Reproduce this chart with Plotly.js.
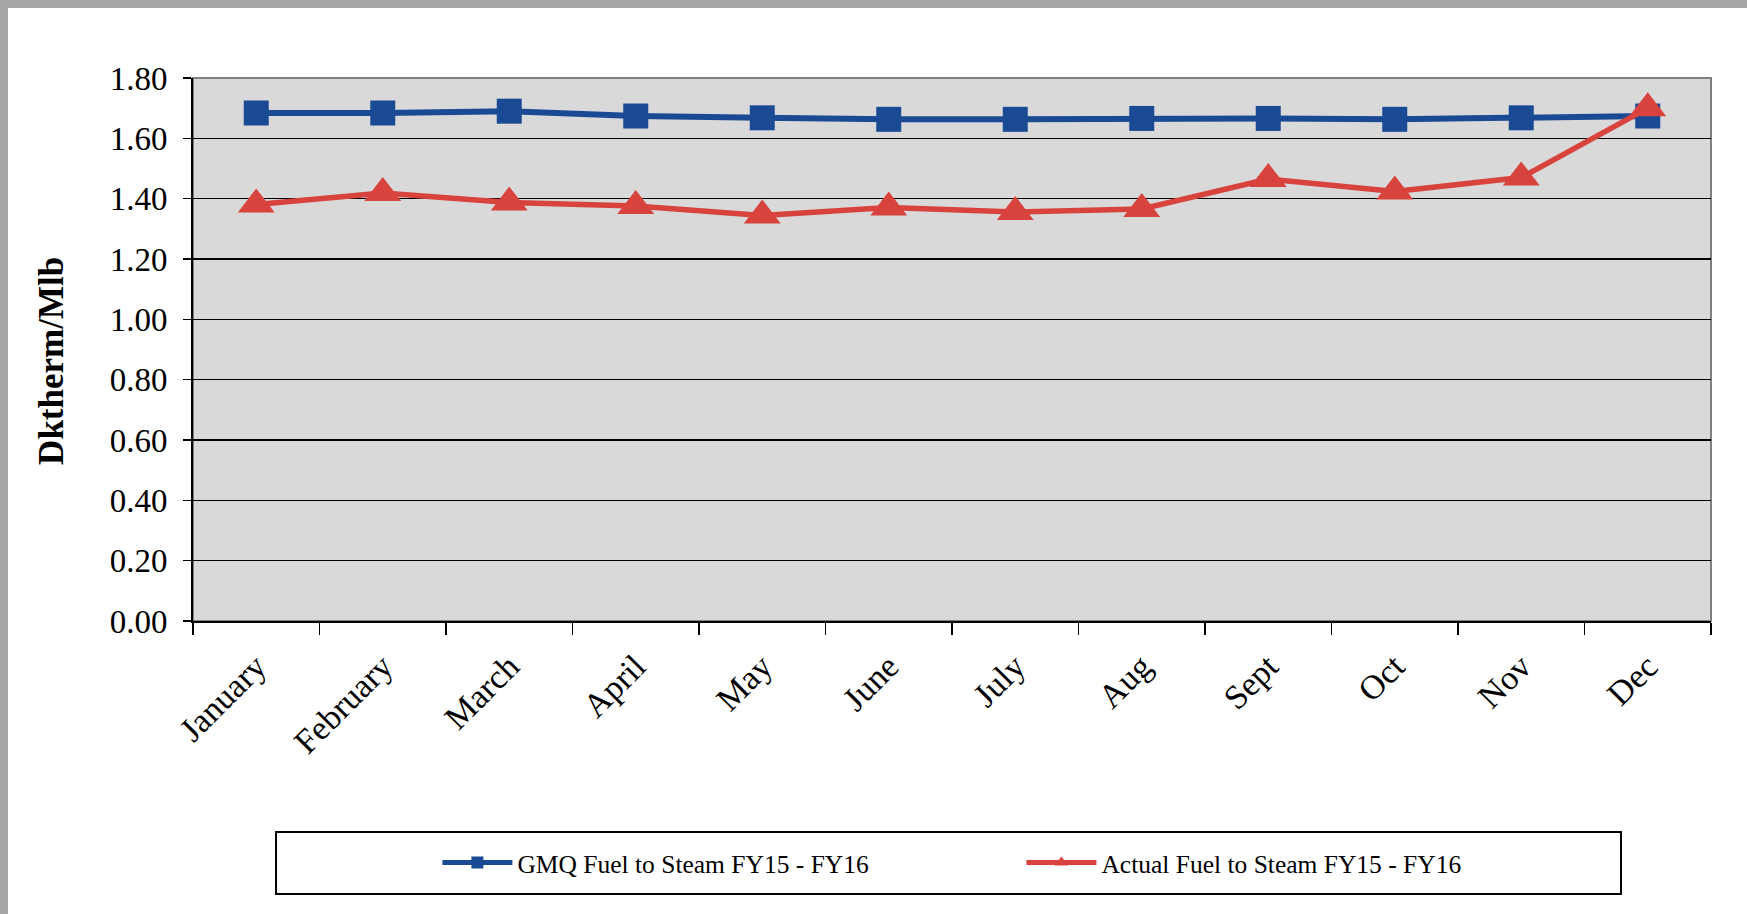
<!DOCTYPE html>
<html>
<head>
<meta charset="utf-8">
<script src="https://cdn.plot.ly/plotly-3.0.1.min.js"></script>
<style>
  html, body { margin: 0; padding: 0; width: 1747px; height: 914px; overflow: hidden; background: #a6a6a6; }
  #chart { position: absolute; left: 8px; top: 8px; width: 1739px; height: 906px; background: #ffffff; }
</style>
</head>
<body>
<div id="chart"></div>
<script>
const months = ["January", "February", "March", "April", "May", "June", "July", "Aug", "Sept", "Oct", "Nov", "Dec"];
const gmqFuel = [1.684, 1.684, 1.690, 1.674, 1.668, 1.663, 1.663, 1.666, 1.666, 1.663, 1.668, 1.674];
const actualFuel = [1.381, 1.419, 1.387, 1.376, 1.344, 1.371, 1.356, 1.366, 1.465, 1.424, 1.470, 1.700];
const seriesNames = ["GMQ Fuel to Steam FY15 - FY16", "Actual Fuel to Steam FY15 - FY16"];
const yTicks = [0, 0.2, 0.4, 0.6, 0.8, 1.0, 1.2, 1.4, 1.6, 1.8];
const yTitle = "Dktherm/Mlb";

const serif = "Liberation Serif, Times New Roman, serif";

const traces = [
  {
    x: months, y: gmqFuel, name: seriesNames[0], type: "scatter", mode: "lines+markers",
    line: { color: "#1b4a94", width: 6 },
    marker: { symbol: "square", size: 25, color: "#1b4a94" }
  },
  {
    x: months, y: actualFuel, name: seriesNames[1], type: "scatter", mode: "lines+markers",
    line: { color: "#d8433e", width: 5.5 },
    marker: { symbol: "triangle-up", size: 32, color: "#d8433e" }
  }
];

const layout = {
  width: 1739, height: 906,
  margin: { l: 185, r: 36, t: 70, b: 293 },
  paper_bgcolor: "#ffffff",
  plot_bgcolor: "#d9d9d9",
  font: { family: serif, color: "#000000", size: 30 },
  showlegend: true,
  xaxis: {
    type: "category",
    range: [-0.5, 11.5],
    tickson: "boundaries",
    ticks: "outside", ticklen: 12, tickwidth: 1.5, tickcolor: "#000",
    tickangle: -45,
    ticklabelstandoff: 10,
    tickfont: { family: serif, size: 34, color: "#000" },
    showline: true, linecolor: "#000", linewidth: 2,
    showgrid: false, zeroline: false, fixedrange: true
  },
  yaxis: {
    range: [0, 1.8],
    tickvals: yTicks,
    tickformat: ".2f",
    ticks: "outside", ticklen: 8, tickwidth: 1.5, tickcolor: "#000",
    ticklabelstandoff: 9,
    tickfont: { family: serif, size: 33, color: "#000" },
    showline: true, linecolor: "#000", linewidth: 2,
    showgrid: true, gridcolor: "#000", gridwidth: 1.5,
    zeroline: false, fixedrange: true
  },
  annotations: [
    { text: "<b>" + yTitle + "</b>", xref: "paper", yref: "paper", x: -0.0929, y: 0.479,
      xanchor: "center", yanchor: "middle", textangle: -90, showarrow: false,
      font: { family: serif, size: 35, color: "#000" } }
  ],
  legend: {
    orientation: "h",
    x: 0.161, xanchor: "left",
    y: -0.4457, yanchor: "middle",
    bgcolor: "rgba(0,0,0,0)", borderwidth: 0,
    font: { family: serif, size: 25.5, color: "#000" },
    entrywidth: 499, entrywidthmode: "pixels",
    itemwidth: 70,
    itemsizing: "constant"
  },
  shapes: [
    { type: "rect", xref: "paper", yref: "paper", x0: 0, x1: 1, y0: 0, y1: 1,
      line: { color: "#7f7f7f", width: 2 }, layer: "below" },
    { type: "rect", xref: "paper", yref: "paper", x0: 0.0547, x1: 0.9407, y0: -0.5028, y1: -0.3886,
      line: { color: "#000", width: 2 }, fillcolor: "rgba(0,0,0,0)", layer: "above" }
  ]
};

Plotly.newPlot("chart", traces, layout, { displayModeBar: false, staticPlot: true });
</script>
</body>
</html>
